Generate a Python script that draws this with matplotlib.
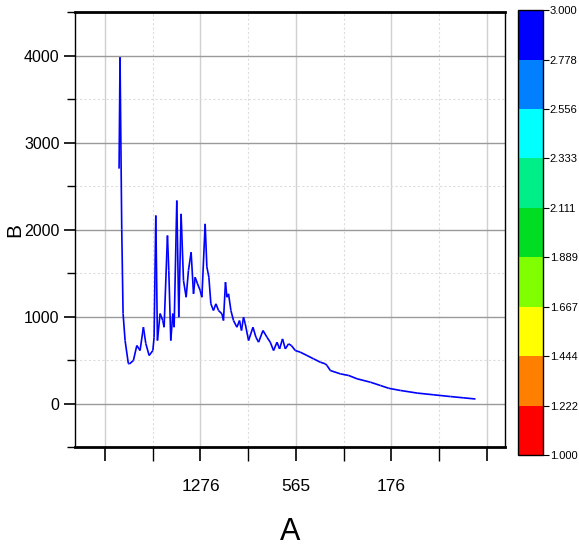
import numpy as np
import matplotlib
matplotlib.use("Agg")
import matplotlib.pyplot as plt
from matplotlib.collections import LineCollection
from matplotlib.colors import ListedColormap, BoundaryNorm
from matplotlib.colorbar import ColorbarBase

plt.rcParams["font.family"] = ["Liberation Sans", "DejaVu Sans"]

# ── data (x in axis position units, major ticks every 100) ──
x_pos = [14.7, 15.7, 17.5, 18.9, 21.0, 24.4, 25.5, 29.7, 33.3, 36.7, 40.2, 42.7,
         46.2, 50.1, 51.4, 53.2, 54.9, 57.7, 60.5, 61.9, 65.4, 66.8, 68.9, 71.0,
         72.4, 75.2, 77.3, 79.7, 82.2, 85.0, 87.4, 90.2, 92.7, 94.4, 96.9, 99.7,
         101.5, 104.9, 106.7, 108.8, 110.9, 113.6, 116.2, 118.9, 122.5, 124.1,
         126.2, 127.7, 129.4, 131.9, 134.6, 138.2, 140.9, 143.0, 145.1, 146.9,
         150.4, 155.0, 158.1, 160.9, 165.5, 169.7, 173.1, 176.6, 180.2, 182.9,
         186.0, 188.9, 192.3, 195.2, 199.4, 204.6, 211.6, 218.6, 225.6, 230.8,
         232.6, 236.1, 246.6, 255.4, 264.1, 278.1, 288.6, 297.3, 309.5, 327.1,
         344.5, 362.0, 376.0, 388.2]
b_vals = [2700, 3980, 2000, 1034, 724, 460, 455, 494, 667, 609, 877, 690,
          552, 609, 762, 2161, 724, 1034, 954, 877, 1931, 1529, 724, 1034,
          877, 2333, 992, 2180, 1414, 1222, 1529, 1739, 1261, 1452, 1376, 1299,
          1222, 2065, 1571, 1452, 1146, 1069, 1146, 1069, 1031, 954,
          1395, 1222, 1261, 1069, 954, 877, 954, 839, 992, 916,
          724, 877, 762, 705, 839, 762, 705, 609, 705, 628,
          743, 628, 686, 667, 609, 590, 552, 513, 475, 456,
          437, 379, 341, 322, 284, 245, 207, 175, 150, 120,
          100, 80, 65, 52]
c_vals = [1.8] + [2.9] * (len(x_pos) - 1)

x_ticks = [0, 100, 200, 300, 400]
x_tick_labels = ["", "1276", "565", "176", ""]
level_bounds = [1.000, 1.222, 1.444, 1.667, 1.889, 2.111, 2.333, 2.556, 2.778, 3.000]
level_colors = ["#FF0000", "#FF7F00", "#FFFF00", "#80FF00", "#00DD22",
                "#00EE88", "#00FFFF", "#0080FF", "#0000FF"]

cmap = ListedColormap(level_colors)
norm = BoundaryNorm(level_bounds, cmap.N)

fig = plt.figure(figsize=(5.79, 5.52), dpi=100)
ax = fig.add_axes([0.1295, 0.1902, 0.7425, 0.788])

pts = np.column_stack([x_pos, b_vals]).reshape(-1, 1, 2)
segs = np.concatenate([pts[:-1], pts[1:]], axis=1)
lc = LineCollection(segs, cmap=cmap, norm=norm, linewidths=1.2)
lc.set_array(np.array(c_vals[1:]))
ax.add_collection(lc)

ax.set_xlim(-31.5, 419)
ax.set_ylim(-500, 4500)
ax.set_xticks(x_ticks)
ax.set_xticklabels(x_tick_labels)
ax.set_xticks([50, 150, 250, 350], minor=True)
ax.set_yticks([0, 1000, 2000, 3000, 4000])
ax.set_yticks([-500, 500, 1500, 2500, 3500, 4500], minor=True)

ax.grid(True, axis="y", which="major", color="#9a9a9a", lw=1.0)
ax.grid(True, axis="x", which="major", color="#d0d0d0", lw=1.0)
ax.grid(True, which="minor", color="#dddddd", lw=0.8, ls=(0, (2, 2)))
ax.set_axisbelow(True)

ax.tick_params(axis="x", which="major", labelsize=12.5, length=10, width=1.2, pad=13)
ax.tick_params(axis="y", which="major", labelsize=11.5, length=8, width=1.2, pad=3)
ax.tick_params(axis="x", which="minor", length=10, width=1.0)
ax.tick_params(axis="y", which="minor", length=6, width=1.0)
for side in ("bottom", "top"):
    ax.spines[side].set_linewidth(2.0)
ax.spines["left"].set_linewidth(1.0)
ax.spines["right"].set_linewidth(1.0)

ax.set_xlabel("A", fontsize=22)
ax.xaxis.set_label_coords(0.5, -0.16)
ax.set_ylabel("B", fontsize=15)
ax.yaxis.set_label_coords(-0.118, 0.5)

cax = fig.add_axes([0.8946, 0.1757, 0.0432, 0.806])
cb = ColorbarBase(cax, cmap=cmap, norm=norm, boundaries=level_bounds,
                  ticks=level_bounds, spacing="uniform")
cb.set_ticklabels(["%.3f" % v for v in level_bounds])
cb.outline.set_linewidth(1.0)
cax.tick_params(labelsize=8, length=4, width=0.8, pad=1)

fig.savefig("out.png", dpi=100)
